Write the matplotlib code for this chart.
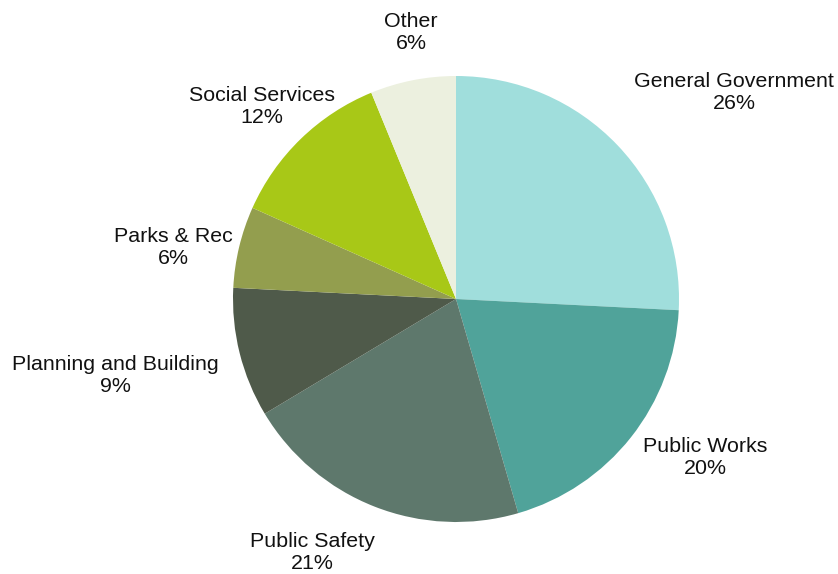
import matplotlib.pyplot as plt

# Budget share by department (percent)
departments = ["General Government", "Public Works", "Public Safety",
               "Planning and Building", "Parks & Rec", "Social Services", "Other"]
shares = [25.8, 19.7, 20.9, 9.4, 5.9, 12.1, 6.2]
colors = ["#A0DEDC", "#50A39A", "#5E786C", "#4F5A4A", "#939E4E", "#A8C817", "#ECF0DF"]

# label anchor points, in units of the pie radius
label_pos = [(1.247, 0.924), (1.117, -0.709), (-0.646, -1.135), (-1.529, -0.341),
             (-1.269, 0.229), (-0.870, 0.861), (-0.202, 1.193)]

plt.rcParams['font.family'] = ['Liberation Sans', 'DejaVu Sans']

fig = plt.figure(figsize=(8.38, 5.74), dpi=100)
ax = fig.add_axes([0, 0, 1, 1])

ax.pie(shares, colors=colors, startangle=90, counterclock=False, radius=1,
       wedgeprops=dict(linewidth=0))

for name, val, (x, y) in zip(departments, shares, label_pos):
    ax.text(x, y, f"{name}\n{val:.0f}%", ha="center", va="center",
            fontsize=15.4, linespacing=1.2, color="#111111")

r_px = 223
ax.set_xlim(-456 / r_px, (838 - 456) / r_px)
ax.set_ylim((299 - 574) / r_px, 299 / r_px)
ax.set_aspect("auto")
ax.axis("off")

plt.savefig("out.png", dpi=100)
